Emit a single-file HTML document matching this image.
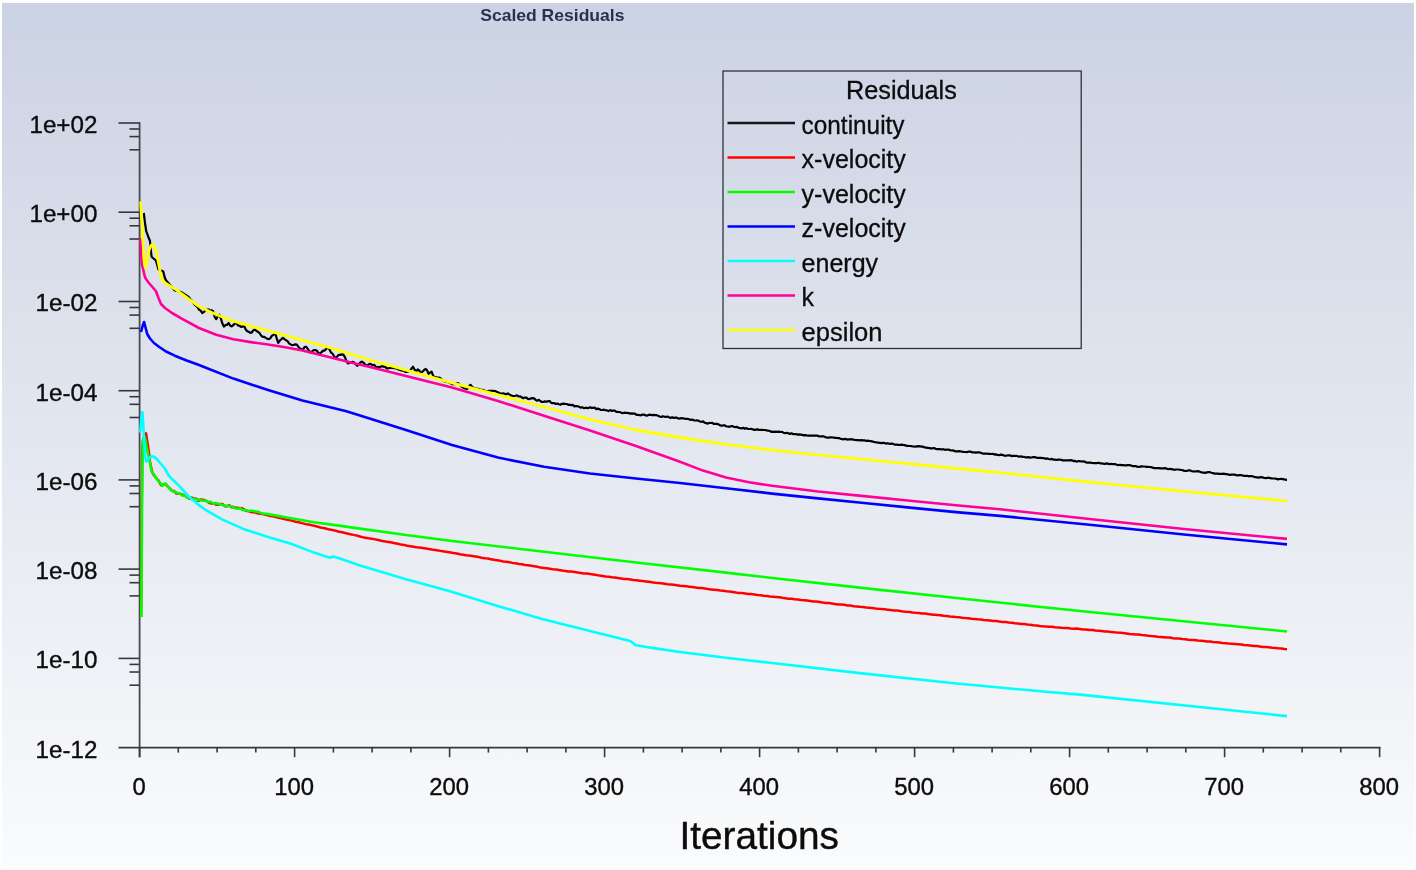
<!DOCTYPE html>
<html lang="en">
<head>
<meta charset="utf-8">
<title>Scaled Residuals</title>
<style>
html,body{margin:0;padding:0;background:#fff;overflow:hidden;}
body{width:1416px;height:870px;font-family:"Liberation Sans",Arial,sans-serif;}
svg{display:block;position:absolute;left:0;top:0;}
</style>
</head>
<body>
<svg width="1416" height="870" viewBox="0 0 1416 870">
<defs><linearGradient id="bg" x1="0" y1="0" x2="0" y2="1"><stop offset="0" stop-color="#cbd2e3"/><stop offset="1" stop-color="#fafbfc"/></linearGradient></defs>
<rect x="0" y="0" width="1416" height="870" fill="#ffffff"/>
<rect x="2" y="3" width="1412" height="862" fill="url(#bg)"/>
<g stroke="#4a4b51" stroke-width="1.8" fill="none"><line x1="139.6" y1="122.2" x2="139.6" y2="757.2"/></g>
<g stroke="#37383d" stroke-width="1.6" fill="none"><line x1="118.5" y1="747.6" x2="1380.6" y2="747.6"/><line x1="118.5" y1="123.0" x2="139.6" y2="123.0"/><line x1="129.5" y1="129.0" x2="139.6" y2="129.0"/><line x1="129.5" y1="136.6" x2="139.6" y2="136.6"/><line x1="129.5" y1="149.8" x2="139.6" y2="149.8"/><line x1="118.5" y1="212.2" x2="139.6" y2="212.2"/><line x1="129.5" y1="218.2" x2="139.6" y2="218.2"/><line x1="129.5" y1="225.8" x2="139.6" y2="225.8"/><line x1="129.5" y1="239.0" x2="139.6" y2="239.0"/><line x1="118.5" y1="301.5" x2="139.6" y2="301.5"/><line x1="129.5" y1="307.5" x2="139.6" y2="307.5"/><line x1="129.5" y1="315.1" x2="139.6" y2="315.1"/><line x1="129.5" y1="328.3" x2="139.6" y2="328.3"/><line x1="118.5" y1="390.7" x2="139.6" y2="390.7"/><line x1="129.5" y1="396.7" x2="139.6" y2="396.7"/><line x1="129.5" y1="404.3" x2="139.6" y2="404.3"/><line x1="129.5" y1="417.5" x2="139.6" y2="417.5"/><line x1="118.5" y1="479.9" x2="139.6" y2="479.9"/><line x1="129.5" y1="485.9" x2="139.6" y2="485.9"/><line x1="129.5" y1="493.5" x2="139.6" y2="493.5"/><line x1="129.5" y1="506.7" x2="139.6" y2="506.7"/><line x1="118.5" y1="569.1" x2="139.6" y2="569.1"/><line x1="129.5" y1="575.1" x2="139.6" y2="575.1"/><line x1="129.5" y1="582.7" x2="139.6" y2="582.7"/><line x1="129.5" y1="595.9" x2="139.6" y2="595.9"/><line x1="118.5" y1="658.4" x2="139.6" y2="658.4"/><line x1="129.5" y1="664.4" x2="139.6" y2="664.4"/><line x1="129.5" y1="672.0" x2="139.6" y2="672.0"/><line x1="129.5" y1="685.2" x2="139.6" y2="685.2"/><line x1="139.6" y1="747.6" x2="139.6" y2="757.2"/><line x1="178.3" y1="747.6" x2="178.3" y2="752.6"/><line x1="217.1" y1="747.6" x2="217.1" y2="752.6"/><line x1="255.8" y1="747.6" x2="255.8" y2="752.6"/><line x1="294.6" y1="747.6" x2="294.6" y2="757.2"/><line x1="333.4" y1="747.6" x2="333.4" y2="752.6"/><line x1="372.1" y1="747.6" x2="372.1" y2="752.6"/><line x1="410.9" y1="747.6" x2="410.9" y2="752.6"/><line x1="449.6" y1="747.6" x2="449.6" y2="757.2"/><line x1="488.4" y1="747.6" x2="488.4" y2="752.6"/><line x1="527.1" y1="747.6" x2="527.1" y2="752.6"/><line x1="565.9" y1="747.6" x2="565.9" y2="752.6"/><line x1="604.6" y1="747.6" x2="604.6" y2="757.2"/><line x1="643.4" y1="747.6" x2="643.4" y2="752.6"/><line x1="682.1" y1="747.6" x2="682.1" y2="752.6"/><line x1="720.9" y1="747.6" x2="720.9" y2="752.6"/><line x1="759.6" y1="747.6" x2="759.6" y2="757.2"/><line x1="798.4" y1="747.6" x2="798.4" y2="752.6"/><line x1="837.1" y1="747.6" x2="837.1" y2="752.6"/><line x1="875.9" y1="747.6" x2="875.9" y2="752.6"/><line x1="914.6" y1="747.6" x2="914.6" y2="757.2"/><line x1="953.4" y1="747.6" x2="953.4" y2="752.6"/><line x1="992.1" y1="747.6" x2="992.1" y2="752.6"/><line x1="1030.8" y1="747.6" x2="1030.8" y2="752.6"/><line x1="1069.6" y1="747.6" x2="1069.6" y2="757.2"/><line x1="1108.3" y1="747.6" x2="1108.3" y2="752.6"/><line x1="1147.1" y1="747.6" x2="1147.1" y2="752.6"/><line x1="1185.8" y1="747.6" x2="1185.8" y2="752.6"/><line x1="1224.6" y1="747.6" x2="1224.6" y2="757.2"/><line x1="1263.3" y1="747.6" x2="1263.3" y2="752.6"/><line x1="1302.1" y1="747.6" x2="1302.1" y2="752.6"/><line x1="1340.8" y1="747.6" x2="1340.8" y2="752.6"/><line x1="1379.6" y1="747.6" x2="1379.6" y2="757.2"/></g>
<path d="M143.8,213.0 L145.0,223.0 L146.2,231.0 L148.0,236.0 L150.0,241.0 L150.8,250.0 L151.6,256.7 L153.5,258.5 L155.9,260.5 L157.2,265.0 L158.4,269.3 L160.5,270.2 L163.3,271.5 L164.6,277.0 L165.8,280.0 L170.0,285.0 L174.8,290.5 L181.0,292.0 L188.6,297.0 L195.0,305.0 L196.0,305.8 L197.6,307.1 L199.1,309.7 L200.7,310.6 L202.2,313.0 L203.8,312.1 L205.3,310.3 L206.9,309.8 L208.4,309.4 L210.0,310.4 L211.5,310.3 L213.1,311.3 L214.6,316.8 L216.2,319.1 L217.7,316.5 L219.3,314.7 L220.8,318.3 L222.4,323.6 L223.9,326.6 L225.5,325.1 L227.0,324.8 L228.6,323.0 L230.1,325.6 L231.7,326.4 L233.2,325.2 L234.8,323.6 L236.3,323.0 L237.9,325.4 L239.4,325.8 L241.0,326.8 L242.5,326.7 L244.1,325.9 L245.6,329.2 L247.2,331.2 L248.7,331.8 L250.3,332.8 L251.8,332.5 L253.4,330.2 L254.9,329.6 L256.5,331.0 L258.0,331.9 L259.6,333.1 L261.1,335.5 L262.7,336.9 L264.2,336.8 L265.8,337.9 L267.3,338.7 L268.9,339.2 L270.4,338.1 L272.0,335.7 L273.5,334.9 L275.1,332.8 L276.6,338.0 L278.2,343.0 L279.7,340.8 L281.3,339.2 L282.8,337.8 L284.4,339.2 L285.9,340.2 L287.5,341.0 L289.0,343.4 L290.6,344.4 L292.1,345.1 L293.7,344.8 L295.2,344.4 L296.8,344.7 L298.3,346.7 L299.9,348.5 L301.4,349.1 L303.0,349.6 L304.5,347.1 L306.1,346.7 L307.6,348.6 L309.2,351.0 L310.7,352.7 L312.3,351.2 L313.8,350.0 L315.4,350.1 L316.9,350.8 L318.5,353.0 L320.0,353.8 L321.6,352.1 L323.1,350.6 L324.7,350.6 L326.2,348.8 L327.8,347.7 L329.3,349.0 L330.9,352.3 L332.4,353.5 L334.0,356.1 L335.5,357.9 L337.1,356.7 L338.6,354.9 L340.2,354.9 L341.7,354.3 L343.3,354.6 L344.8,356.9 L346.4,361.0 L347.9,363.3 L349.5,363.0 L351.0,362.2 L352.6,361.8 L354.1,362.5 L355.7,364.2 L357.2,365.8 L358.8,364.5 L360.3,362.4 L361.9,361.6 L363.4,362.6 L365.0,364.2 L366.5,365.7 L368.1,364.9 L369.6,363.8 L371.2,364.3 L372.7,365.3 L374.3,364.9 L375.8,366.9 L377.4,367.1 L378.9,367.2 L380.5,366.9 L382.0,366.1 L383.6,366.7 L385.1,366.9 L386.7,368.3 L388.2,368.4 L389.8,368.0 L391.3,368.0 L392.9,367.9 L394.4,368.2 L396.0,368.5 L397.5,369.0 L399.1,369.8 L400.6,370.2 L402.2,370.7 L403.7,370.5 L405.3,371.8 L406.8,371.9 L408.4,371.5 L409.9,370.9 L411.5,368.6 L413.0,366.7 L414.6,369.8 L416.1,371.7 L417.7,369.4 L419.2,370.4 L420.8,373.1 L422.3,371.8 L423.9,370.2 L425.4,369.0 L427.0,370.2 L428.5,373.9 L430.1,372.5 L431.6,371.7 L433.2,375.8 L434.7,377.3 L436.3,377.1 L437.8,377.9 L439.4,377.6 L440.9,378.7 L442.5,380.3 L444.0,381.2 L445.6,381.8 L447.1,381.8 L448.7,382.4 L450.2,382.7 L451.8,384.1 L453.3,384.0 L454.9,384.2 L456.4,383.5 L458.0,383.1 L459.5,384.8 L461.1,386.3 L462.6,387.3 L464.2,388.3 L465.7,388.7 L467.3,389.0 L468.8,386.8 L470.4,384.8 L471.9,386.5 L473.5,387.8 L475.0,388.3 L476.6,388.6 L478.1,388.8 L479.7,389.4 L481.2,390.0 L482.8,389.8 L484.3,390.5 L485.9,391.0 L487.4,391.3 L489.0,390.9 L490.5,390.8 L492.1,390.8 L493.6,390.9 L495.2,391.1 L496.7,391.8 L500.0,393.2 L501.6,393.7 L503.1,393.3 L504.7,393.7 L506.2,394.4 L507.8,393.4 L509.3,394.4 L510.9,395.4 L512.4,395.8 L514.0,396.0 L515.5,395.8 L517.1,395.3 L518.6,396.5 L520.2,396.3 L521.7,397.3 L523.3,398.2 L524.8,397.6 L526.4,397.6 L527.9,398.9 L529.5,399.1 L531.0,398.3 L532.6,398.1 L534.1,398.3 L535.7,400.1 L537.2,400.7 L538.8,399.8 L540.3,401.0 L541.9,402.0 L543.4,401.9 L545.0,401.4 L546.5,401.8 L548.1,401.2 L549.6,401.0 L551.2,402.9 L552.7,403.1 L554.3,403.1 L555.8,404.0 L557.4,403.5 L558.9,404.3 L560.5,404.7 L562.0,403.8 L563.6,403.7 L565.1,403.9 L566.7,404.0 L568.2,404.8 L569.8,404.7 L571.3,405.1 L572.9,404.8 L574.4,406.4 L576.0,406.0 L577.5,406.2 L579.1,406.7 L580.6,407.6 L582.2,407.2 L583.7,408.1 L585.3,407.8 L586.8,407.9 L588.4,408.1 L589.9,407.3 L591.5,407.9 L593.0,407.8 L594.6,407.5 L596.1,409.1 L597.7,408.6 L599.2,409.1 L600.8,409.9 L602.3,410.0 L603.9,409.7 L605.4,410.1 L607.0,410.4 L608.5,411.1 L610.1,410.1 L611.6,410.8 L613.2,410.6 L614.7,410.6 L616.3,411.8 L617.8,411.8 L619.4,412.0 L620.9,412.6 L622.5,413.2 L624.0,412.7 L625.6,412.9 L627.1,412.9 L628.7,413.1 L630.2,413.6 L631.8,413.4 L633.3,413.6 L634.9,413.7 L636.4,414.8 L638.0,414.8 L639.5,415.2 L641.1,415.3 L642.6,414.5 L644.2,414.7 L645.7,415.4 L647.3,415.6 L648.8,414.8 L650.4,414.7 L651.9,415.1 L653.5,414.9 L655.0,415.1 L656.6,415.1 L658.1,415.9 L659.7,416.5 L661.2,416.9 L662.8,416.2 L664.3,416.7 L665.9,417.0 L667.4,416.5 L669.0,417.3 L670.5,417.9 L672.1,417.2 L673.6,418.0 L675.2,417.6 L676.7,417.7 L678.3,418.5 L679.8,418.6 L681.4,418.0 L682.9,418.3 L684.5,418.7 L686.0,418.8 L687.6,418.8 L689.1,419.2 L690.7,420.0 L692.2,419.5 L693.8,420.3 L695.3,420.5 L696.9,420.3 L698.4,420.7 L700.0,421.5 L701.5,421.8 L703.1,421.4 L704.6,422.7 L706.2,423.1 L707.7,423.6 L709.3,422.9 L710.8,423.0 L712.4,422.9 L713.9,424.0 L715.5,423.9 L717.0,423.9 L718.6,424.4 L720.1,425.4 L721.7,425.8 L723.2,425.4 L724.8,425.3 L726.3,426.4 L727.9,426.5 L729.4,426.8 L731.0,426.2 L732.5,426.1 L734.1,427.0 L735.6,427.1 L737.2,426.8 L738.7,427.9 L740.3,428.1 L741.8,428.5 L743.4,427.8 L744.9,428.7 L746.5,428.1 L748.0,429.0 L749.6,429.0 L751.1,428.9 L752.7,429.3 L754.2,430.0 L755.8,429.6 L757.3,429.4 L758.9,429.9 L760.4,429.9 L762.0,429.8 L763.5,430.0 L765.1,430.0 L766.6,430.4 L768.2,430.7 L769.7,431.0 L771.3,431.8 L772.8,431.6 L774.4,431.9 L775.9,431.6 L777.5,431.9 L779.0,431.6 L780.6,432.0 L782.1,431.9 L783.7,432.9 L785.2,433.1 L786.8,432.8 L788.3,433.2 L789.9,434.0 L791.4,433.3 L793.0,434.1 L794.5,434.0 L796.1,434.1 L797.6,434.7 L799.2,434.4 L800.7,434.6 L802.3,434.9 L803.8,435.4 L805.4,435.1 L806.9,435.5 L808.5,435.6 L810.0,435.7 L811.6,435.6 L813.1,435.7 L814.7,435.5 L816.2,435.6 L817.8,435.7 L819.3,436.5 L820.9,436.4 L822.4,436.4 L824.0,436.4 L825.5,437.2 L827.1,437.6 L828.6,437.6 L830.2,437.4 L831.7,437.4 L833.3,437.5 L834.8,437.8 L836.4,437.8 L837.9,438.1 L839.5,438.2 L841.0,438.9 L842.6,439.3 L844.1,439.1 L845.7,438.9 L847.2,439.6 L848.8,439.3 L850.3,439.4 L851.9,439.2 L853.4,439.6 L855.0,439.9 L856.5,440.1 L858.1,440.0 L859.6,440.4 L861.2,440.1 L862.7,440.4 L864.3,440.4 L865.8,440.8 L867.4,440.7 L868.9,440.8 L870.5,441.2 L872.0,441.4 L873.6,441.8 L875.1,442.1 L876.7,442.5 L878.2,442.6 L879.8,442.8 L881.3,443.1 L882.9,442.9 L884.4,442.9 L886.0,443.6 L887.5,443.2 L889.1,443.7 L890.6,443.9 L892.2,443.5 L893.7,444.2 L895.3,444.6 L896.8,444.6 L898.4,444.8 L899.9,445.0 L901.5,444.6 L903.0,444.9 L904.6,445.1 L906.1,445.6 L907.7,445.8 L909.2,446.0 L910.8,446.0 L912.3,446.4 L913.9,446.5 L915.4,446.6 L917.0,446.4 L918.5,446.2 L920.1,446.4 L921.6,446.7 L923.2,446.7 L924.7,447.5 L926.3,447.7 L927.8,447.9 L929.4,448.1 L930.9,448.3 L932.5,448.4 L934.0,448.0 L935.6,448.8 L937.1,449.1 L938.7,449.1 L940.2,449.2 L941.8,449.5 L943.3,449.2 L944.9,449.8 L946.4,449.7 L948.0,449.6 L949.5,449.9 L951.1,450.5 L952.6,450.4 L954.2,450.9 L955.7,451.4 L957.3,451.3 L958.8,451.2 L960.4,451.3 L961.9,451.7 L963.5,451.9 L965.0,452.0 L966.6,452.1 L968.1,451.7 L969.7,451.7 L971.2,451.9 L972.8,452.5 L974.3,452.4 L975.9,452.7 L977.4,452.4 L979.0,452.4 L980.5,452.7 L982.1,453.3 L983.6,453.6 L985.2,453.7 L986.7,453.5 L988.3,453.8 L989.8,453.9 L991.4,454.0 L992.9,453.8 L994.5,454.6 L996.0,454.3 L997.6,455.0 L999.1,455.2 L1000.7,454.6 L1002.2,454.9 L1003.8,455.4 L1005.3,455.8 L1006.9,455.5 L1008.4,455.3 L1010.0,455.3 L1011.5,456.1 L1013.1,455.7 L1014.6,456.0 L1016.2,455.8 L1017.7,456.2 L1019.3,456.8 L1020.8,456.3 L1022.4,456.9 L1023.9,456.9 L1025.5,457.3 L1027.0,457.4 L1028.6,457.1 L1030.1,457.6 L1031.7,457.5 L1033.2,457.2 L1034.8,457.1 L1036.3,457.6 L1037.9,457.8 L1039.4,457.9 L1041.0,457.8 L1042.5,458.1 L1044.1,458.2 L1045.6,458.8 L1047.2,458.4 L1048.7,459.0 L1050.3,459.3 L1051.8,458.9 L1053.4,459.6 L1054.9,459.7 L1056.5,460.0 L1058.0,459.6 L1059.6,459.7 L1061.1,459.8 L1062.7,460.4 L1064.2,460.4 L1065.8,460.3 L1067.3,460.4 L1068.9,460.3 L1070.4,460.2 L1072.0,460.3 L1073.5,461.1 L1075.1,460.9 L1076.6,461.6 L1078.2,461.2 L1079.7,461.2 L1081.3,461.5 L1082.8,461.4 L1084.4,461.6 L1085.9,462.3 L1087.5,462.6 L1089.0,462.7 L1090.6,462.7 L1092.1,463.0 L1093.7,463.2 L1095.2,463.0 L1096.8,463.2 L1098.3,462.7 L1099.9,463.3 L1101.4,463.3 L1103.0,463.7 L1104.5,463.8 L1106.1,463.6 L1107.6,463.4 L1109.2,464.2 L1110.7,463.8 L1112.3,464.1 L1113.8,464.2 L1115.4,464.2 L1116.9,464.7 L1118.5,465.2 L1120.0,464.8 L1121.6,465.1 L1123.1,465.0 L1124.7,465.3 L1126.2,465.3 L1127.8,465.2 L1129.3,465.2 L1130.9,465.4 L1132.4,466.1 L1134.0,466.1 L1135.5,466.0 L1137.1,466.6 L1138.6,467.0 L1140.2,466.7 L1141.7,466.4 L1143.3,466.5 L1144.8,466.5 L1146.4,466.8 L1147.9,466.8 L1149.5,467.0 L1151.0,467.1 L1152.6,467.6 L1154.1,468.1 L1155.7,468.2 L1157.2,468.1 L1158.8,468.1 L1160.3,468.3 L1161.9,468.3 L1163.4,468.4 L1165.0,468.2 L1166.5,468.5 L1168.1,469.2 L1169.6,468.8 L1171.2,469.1 L1172.7,469.4 L1174.3,469.8 L1175.8,469.5 L1177.4,469.5 L1178.9,469.5 L1180.5,469.8 L1182.0,470.0 L1183.6,470.6 L1185.1,470.8 L1186.7,471.0 L1188.2,470.4 L1189.8,470.3 L1191.3,471.0 L1192.9,471.5 L1194.4,471.4 L1196.0,471.5 L1197.5,471.1 L1199.1,471.4 L1200.6,472.1 L1202.2,472.4 L1203.7,472.6 L1205.3,472.9 L1206.8,472.4 L1208.4,472.2 L1209.9,472.2 L1211.5,472.7 L1213.0,473.1 L1214.6,473.6 L1216.1,473.6 L1217.7,473.7 L1219.2,473.9 L1220.8,473.8 L1222.3,473.9 L1223.9,473.6 L1225.4,474.2 L1227.0,474.1 L1228.5,474.7 L1230.1,474.8 L1231.6,474.6 L1233.2,474.5 L1234.7,474.6 L1236.3,475.1 L1237.8,475.4 L1239.4,475.1 L1240.9,475.1 L1242.5,475.5 L1244.0,475.9 L1245.6,475.9 L1247.1,475.8 L1248.7,476.3 L1250.2,476.0 L1251.8,476.2 L1253.3,476.5 L1254.9,477.2 L1256.4,477.2 L1258.0,477.6 L1259.5,477.4 L1261.1,477.2 L1262.6,477.3 L1264.2,478.0 L1265.7,478.1 L1267.3,477.9 L1268.8,477.7 L1270.4,478.1 L1271.9,478.5 L1273.5,478.5 L1275.0,478.5 L1276.6,478.9 L1278.1,479.4 L1279.7,479.0 L1281.2,478.8 L1282.8,479.1 L1284.3,479.4 L1285.9,479.8 L1287.0,479.8" fill="none" stroke="#000000" stroke-width="2.2" stroke-linejoin="round" stroke-linecap="butt"/>
<path d="M141.1,617.0 L141.5,560.0 L141.8,500.0 L142.2,452.0 L143.0,440.0 L144.4,435.5 L146.0,433.2 L147.2,441.0 L148.4,449.0 L149.6,457.0 L150.0,461.9 L152.2,472.3 L154.4,475.8 L156.6,478.5 L158.8,480.9 L161.0,485.2 L163.2,484.4 L165.4,484.0 L167.6,486.3 L169.8,488.3 L172.0,490.8 L174.2,491.0 L176.4,493.6 L178.6,493.5 L180.8,493.8 L183.0,494.8 L185.2,496.0 L187.4,497.4 L189.6,498.8 L191.8,497.6 L194.0,498.6 L196.2,498.7 L198.4,500.8 L200.6,499.5 L202.8,499.8 L205.0,500.3 L207.2,501.4 L209.4,503.0 L211.6,503.4 L213.8,503.5 L216.0,504.5 L218.2,504.8 L220.4,504.0 L222.6,504.1 L224.8,506.2 L227.0,506.3 L229.2,505.3 L231.4,507.2 L233.6,507.1 L235.8,507.6 L238.0,508.0 L240.2,508.1 L242.4,508.3 L246.0,510.7 L249.1,511.4 L252.2,512.2 L255.3,512.6 L258.4,513.5 L261.5,513.9 L264.6,514.6 L267.7,515.3 L270.8,516.0 L273.9,516.6 L277.0,517.2 L280.1,518.1 L283.2,518.8 L286.3,519.6 L289.4,520.1 L292.5,520.9 L295.6,521.8 L298.7,522.2 L301.8,523.1 L304.9,523.9 L308.0,524.6 L311.1,525.1 L314.2,525.8 L317.3,526.5 L320.4,527.5 L323.5,528.0 L326.6,528.8 L329.7,529.6 L332.8,530.1 L335.9,530.8 L339.0,531.7 L342.1,532.3 L345.2,533.0 L348.3,533.8 L351.4,534.4 L354.5,535.1 L357.6,535.8 L360.7,536.7 L363.8,537.4 L366.9,537.9 L370.0,538.6 L373.1,538.9 L376.2,539.6 L379.3,540.2 L382.4,541.0 L385.5,541.6 L388.6,542.0 L391.7,542.6 L394.8,543.2 L397.9,543.8 L401.0,544.6 L404.1,544.9 L407.2,545.7 L410.3,546.2 L413.4,546.7 L416.5,547.2 L419.6,547.6 L422.7,548.0 L425.8,548.5 L428.9,549.0 L432.0,549.6 L435.1,549.9 L438.2,550.4 L441.3,551.1 L444.4,551.4 L447.5,551.9 L450.6,552.4 L453.7,553.0 L456.8,553.5 L459.9,554.2 L463.0,554.7 L466.1,555.2 L469.2,555.5 L472.3,556.0 L475.4,556.5 L478.5,557.1 L481.6,557.7 L484.7,558.2 L487.8,558.6 L490.9,559.2 L494.0,559.8 L497.1,560.3 L500.2,560.8 L503.3,561.4 L506.4,561.8 L509.5,562.2 L512.6,562.9 L515.7,563.3 L518.8,563.9 L521.9,564.3 L525.0,564.9 L528.1,565.3 L531.2,565.8 L534.3,566.3 L537.4,566.8 L540.5,567.6 L543.6,567.9 L546.7,568.3 L549.8,568.7 L552.9,569.3 L556.0,569.6 L559.1,569.9 L562.2,570.5 L565.3,570.9 L568.4,571.4 L571.5,571.6 L574.6,572.1 L577.7,572.6 L580.8,573.0 L583.9,573.5 L587.0,573.6 L590.1,574.1 L593.2,574.5 L596.3,574.9 L599.4,575.6 L602.5,575.9 L605.6,576.4 L608.7,576.7 L611.8,577.2 L614.9,577.5 L618.0,577.9 L621.1,578.4 L624.2,578.9 L627.3,579.1 L630.4,579.6 L633.5,580.1 L636.6,580.3 L639.7,580.7 L642.8,581.1 L645.9,581.4 L649.0,581.8 L652.1,582.3 L655.2,582.7 L658.3,582.9 L661.4,583.3 L664.5,583.7 L667.6,584.2 L670.7,584.4 L673.8,584.8 L676.9,585.2 L680.0,585.7 L683.1,586.0 L686.2,586.3 L689.3,586.7 L692.4,587.1 L695.5,587.5 L698.6,587.9 L701.7,588.1 L704.8,588.5 L707.9,589.1 L711.0,589.4 L714.1,589.7 L717.2,590.1 L720.3,590.6 L723.4,590.8 L726.5,591.3 L729.6,591.6 L732.7,592.0 L735.8,592.5 L738.9,592.9 L742.0,593.1 L745.1,593.4 L748.2,593.9 L751.3,594.1 L754.4,594.4 L757.5,595.0 L760.6,595.3 L763.7,595.8 L766.8,596.0 L769.9,596.5 L773.0,596.7 L776.1,597.0 L779.2,597.3 L782.3,597.8 L785.4,598.2 L788.5,598.7 L791.6,598.8 L794.7,599.3 L797.8,599.6 L800.9,600.0 L804.0,600.2 L807.1,600.6 L810.2,601.0 L813.3,601.5 L816.4,601.6 L819.5,602.1 L822.6,602.6 L825.7,603.0 L828.8,603.1 L831.9,603.4 L835.0,604.0 L838.1,604.4 L841.2,604.6 L844.3,604.8 L847.4,605.4 L850.5,605.6 L853.6,606.2 L856.7,606.4 L859.8,606.8 L862.9,607.0 L866.0,607.5 L869.1,607.7 L872.2,608.1 L875.3,608.5 L878.4,608.8 L881.5,609.0 L884.6,609.3 L887.7,609.7 L890.8,610.1 L893.9,610.4 L897.0,610.6 L900.1,611.0 L903.2,611.5 L906.3,611.8 L909.4,611.9 L912.5,612.4 L915.6,612.8 L918.7,612.9 L921.8,613.5 L924.9,613.6 L928.0,614.1 L931.1,614.4 L934.2,614.7 L937.3,615.0 L940.4,615.3 L943.5,615.7 L946.6,616.0 L949.7,616.4 L952.8,616.7 L955.9,617.0 L959.0,617.2 L962.1,617.7 L965.2,618.0 L968.3,618.2 L971.4,618.7 L974.5,619.0 L977.6,619.3 L980.7,619.5 L983.8,619.9 L986.9,620.2 L990.0,620.5 L993.1,620.9 L996.2,621.1 L999.3,621.6 L1002.4,621.9 L1005.5,622.1 L1008.6,622.6 L1011.7,622.8 L1014.8,623.3 L1017.9,623.6 L1021.0,623.9 L1024.1,624.1 L1027.2,624.5 L1030.3,624.8 L1033.4,625.3 L1036.5,625.4 L1039.6,625.9 L1042.7,626.3 L1045.8,626.5 L1048.9,626.8 L1052.0,626.8 L1055.1,627.3 L1058.2,627.4 L1061.3,627.8 L1064.4,628.0 L1067.5,628.0 L1070.6,628.4 L1073.7,628.7 L1076.8,628.6 L1079.9,628.9 L1083.0,629.4 L1086.1,629.5 L1089.2,630.0 L1092.3,630.1 L1095.4,630.6 L1098.5,630.7 L1101.6,631.1 L1104.7,631.5 L1107.8,631.6 L1110.9,631.9 L1114.0,632.3 L1117.1,632.6 L1120.2,632.8 L1123.3,633.1 L1126.4,633.4 L1129.5,634.0 L1132.6,634.2 L1135.7,634.6 L1138.8,634.6 L1141.9,635.1 L1145.0,635.2 L1148.1,635.7 L1151.2,636.0 L1154.3,636.2 L1157.4,636.7 L1160.5,636.9 L1163.6,637.2 L1166.7,637.6 L1169.8,637.6 L1172.9,638.2 L1176.0,638.4 L1179.1,638.6 L1182.2,639.1 L1185.3,639.2 L1188.4,639.7 L1191.5,639.9 L1194.6,640.1 L1197.7,640.6 L1200.8,640.8 L1203.9,641.0 L1207.0,641.5 L1210.1,641.6 L1213.2,642.1 L1216.3,642.2 L1219.4,642.6 L1222.5,643.1 L1225.6,643.2 L1228.7,643.6 L1231.8,643.8 L1234.9,644.0 L1238.0,644.3 L1241.1,644.6 L1244.2,645.1 L1247.3,645.3 L1250.4,645.6 L1253.5,646.0 L1256.6,646.1 L1259.7,646.5 L1262.8,646.9 L1265.9,647.0 L1269.0,647.3 L1272.1,647.7 L1275.2,647.9 L1278.3,648.3 L1281.4,648.6 L1284.5,649.0 L1287.0,649.2" fill="none" stroke="#ff0000" stroke-width="2.5" stroke-linejoin="round" stroke-linecap="butt"/>
<path d="M141.3,617.0 L141.7,560.0 L142.1,500.0 L142.6,456.0 L142.7,444.0 L143.4,438.5 L144.6,436.5 L145.7,441.0 L146.9,448.0 L148.3,455.0 L149.9,462.0 L151.2,470.0 L153.0,473.3 L154.9,475.7 L156.8,479.0 L158.7,481.4 L160.6,483.3 L162.5,486.0 L164.4,483.6 L166.3,484.2 L168.2,487.0 L170.1,489.4 L172.0,490.8 L173.9,491.8 L175.8,492.3 L177.7,492.9 L179.6,493.3 L181.5,495.0 L183.4,495.7 L185.3,496.1 L187.2,497.2 L189.1,497.7 L191.0,498.9 L192.9,499.0 L194.8,498.7 L196.7,500.1 L198.6,499.3 L200.5,500.4 L202.4,500.6 L204.3,500.8 L206.2,500.9 L208.1,502.3 L210.0,501.6 L211.9,502.7 L213.8,503.7 L215.7,502.9 L217.6,503.4 L219.5,504.3 L221.4,504.6 L223.3,505.2 L225.2,505.9 L227.1,505.4 L229.0,506.0 L230.9,506.5 L232.8,506.6 L234.7,508.2 L236.6,508.5 L238.5,508.8 L240.4,508.2 L242.3,509.9 L244.2,510.2 L246.1,510.1 L248.0,510.9 L249.9,510.8 L251.8,510.8 L253.7,511.0 L255.6,511.5 L257.5,511.6 L259.4,512.3 L261.3,513.3 L268.0,514.1 L291.0,518.3 L314.0,522.2 L337.0,525.4 L360.0,528.6 L406.0,535.0 L450.0,540.7 L542.0,551.5 L634.0,562.3 L726.0,572.6 L770.0,577.7 L862.0,587.9 L954.0,597.8 L1046.0,607.5 L1090.0,612.0 L1287.0,631.5" fill="none" stroke="#00ff00" stroke-width="2.6" stroke-linejoin="round" stroke-linecap="butt"/>
<path d="M141.0,332.0 L142.6,326.0 L144.1,322.0 L145.4,327.0 L147.2,334.0 L150.0,338.5 L154.0,343.0 L159.3,347.0 L166.0,351.5 L174.8,355.7 L186.0,360.3 L199.0,365.0 L233.4,378.6 L268.0,390.0 L302.4,400.5 L345.5,411.0 L360.0,415.5 L406.0,430.0 L452.0,445.0 L498.0,457.6 L544.0,466.8 L590.0,473.5 L636.0,478.5 L680.0,483.0 L726.0,488.2 L772.0,493.6 L818.0,498.4 L864.0,503.0 L910.0,507.6 L956.0,512.1 L1000.0,515.9 L1092.0,525.0 L1184.0,534.5 L1287.0,544.4" fill="none" stroke="#0000ff" stroke-width="2.6" stroke-linejoin="round" stroke-linecap="butt"/>
<path d="M140.2,432.5 L141.2,420.0 L142.4,412.0 L143.3,425.0 L144.4,446.0 L145.4,458.0 L146.3,461.5 L147.8,460.0 L149.6,457.5 L152.4,456.3 L155.0,457.5 L157.6,460.0 L161.0,464.0 L164.5,468.0 L166.8,472.0 L169.0,476.0 L172.5,479.5 L176.0,482.8 L180.6,487.5 L189.8,497.6 L197.0,503.6 L205.9,510.2 L222.0,519.4 L245.0,529.6 L268.0,536.9 L291.0,543.8 L314.0,552.6 L326.0,556.6 L330.0,557.8 L333.0,556.5 L337.0,557.5 L360.0,565.4 L406.0,579.2 L450.0,591.2 L496.0,605.4 L542.0,619.0 L588.0,630.4 L620.0,638.6 L630.2,641.0 L632.6,642.6 L635.2,645.0 L645.0,646.8 L657.0,648.6 L680.0,652.0 L726.0,657.8 L770.0,662.8 L862.0,673.4 L954.0,683.2 L1046.0,691.8 L1080.0,694.6 L1287.0,716.1" fill="none" stroke="#00ffff" stroke-width="2.6" stroke-linejoin="round" stroke-linecap="butt"/>
<path d="M140.2,238.3 L141.2,254.0 L142.0,264.7 L143.0,268.5 L144.4,275.0 L145.6,278.5 L148.5,282.5 L152.0,286.5 L155.9,291.0 L158.5,298.0 L161.0,304.0 L165.0,308.0 L172.0,313.0 L181.7,318.6 L199.0,328.0 L216.2,334.8 L233.4,339.3 L250.7,342.1 L267.9,344.5 L285.2,347.2 L302.4,350.5 L319.7,354.7 L336.9,359.0 L354.0,363.2 L370.0,366.9 L406.0,376.0 L452.0,387.5 L498.0,401.0 L544.0,415.8 L590.0,430.4 L636.0,446.0 L680.0,461.8 L703.0,470.6 L726.0,477.5 L749.0,482.3 L772.0,485.8 L818.0,491.5 L864.0,496.1 L910.0,500.7 L956.0,505.3 L1000.0,509.3 L1092.0,519.3 L1184.0,529.0 L1287.0,538.9" fill="none" stroke="#ff0099" stroke-width="2.6" stroke-linejoin="round" stroke-linecap="butt"/>
<path d="M140.6,201.5 L142.5,232.0 L144.2,262.0 L145.2,267.6 L147.0,262.0 L149.2,250.0 L151.0,245.4 L152.6,244.6 L154.5,246.5 L156.8,254.0 L159.4,268.0 L161.2,277.0 L162.6,280.8 L166.0,283.5 L170.0,286.0 L176.0,289.6 L186.0,297.0 L199.0,306.6 L215.0,314.0 L233.4,321.2 L267.9,330.7 L302.4,340.2 L336.9,349.7 L360.0,357.0 L406.0,370.2 L452.0,382.9 L498.0,394.8 L543.9,407.0 L589.9,419.4 L635.9,430.0 L680.0,437.5 L726.0,444.4 L772.0,450.1 L818.0,454.9 L864.0,459.4 L910.0,463.9 L956.0,468.5 L1000.0,472.7 L1092.0,482.3 L1184.0,491.3 L1287.0,501.1" fill="none" stroke="#ffff00" stroke-width="2.8" stroke-linejoin="round" stroke-linecap="butt"/>
<text transform="translate(480.20,21.30) scale(1.07,1)" text-anchor="start" font-size="16.4" font-family="'Liberation Sans', Arial, sans-serif" fill="#2b3050" font-weight="bold">Scaled Residuals</text><text transform="translate(97.40,133.00) scale(1.035,1)" text-anchor="end" font-size="23.4" font-family="'Liberation Sans', Arial, sans-serif" fill="#0c0c0c" stroke="#0c0c0c" stroke-width="0.35">1e+02</text><text transform="translate(97.40,222.23) scale(1.035,1)" text-anchor="end" font-size="23.4" font-family="'Liberation Sans', Arial, sans-serif" fill="#0c0c0c" stroke="#0c0c0c" stroke-width="0.35">1e+00</text><text transform="translate(97.40,311.46) scale(1.035,1)" text-anchor="end" font-size="23.4" font-family="'Liberation Sans', Arial, sans-serif" fill="#0c0c0c" stroke="#0c0c0c" stroke-width="0.35">1e-02</text><text transform="translate(97.40,400.69) scale(1.035,1)" text-anchor="end" font-size="23.4" font-family="'Liberation Sans', Arial, sans-serif" fill="#0c0c0c" stroke="#0c0c0c" stroke-width="0.35">1e-04</text><text transform="translate(97.40,489.91) scale(1.035,1)" text-anchor="end" font-size="23.4" font-family="'Liberation Sans', Arial, sans-serif" fill="#0c0c0c" stroke="#0c0c0c" stroke-width="0.35">1e-06</text><text transform="translate(97.40,579.14) scale(1.035,1)" text-anchor="end" font-size="23.4" font-family="'Liberation Sans', Arial, sans-serif" fill="#0c0c0c" stroke="#0c0c0c" stroke-width="0.35">1e-08</text><text transform="translate(97.40,668.37) scale(1.035,1)" text-anchor="end" font-size="23.4" font-family="'Liberation Sans', Arial, sans-serif" fill="#0c0c0c" stroke="#0c0c0c" stroke-width="0.35">1e-10</text><text transform="translate(97.40,757.60) scale(1.035,1)" text-anchor="end" font-size="23.4" font-family="'Liberation Sans', Arial, sans-serif" fill="#0c0c0c" stroke="#0c0c0c" stroke-width="0.35">1e-12</text><text transform="translate(139.10,794.80) scale(1.02,1)" text-anchor="middle" font-size="23.4" font-family="'Liberation Sans', Arial, sans-serif" fill="#0c0c0c" stroke="#0c0c0c" stroke-width="0.35">0</text><text transform="translate(294.10,794.80) scale(1.02,1)" text-anchor="middle" font-size="23.4" font-family="'Liberation Sans', Arial, sans-serif" fill="#0c0c0c" stroke="#0c0c0c" stroke-width="0.35">100</text><text transform="translate(449.10,794.80) scale(1.02,1)" text-anchor="middle" font-size="23.4" font-family="'Liberation Sans', Arial, sans-serif" fill="#0c0c0c" stroke="#0c0c0c" stroke-width="0.35">200</text><text transform="translate(604.10,794.80) scale(1.02,1)" text-anchor="middle" font-size="23.4" font-family="'Liberation Sans', Arial, sans-serif" fill="#0c0c0c" stroke="#0c0c0c" stroke-width="0.35">300</text><text transform="translate(759.10,794.80) scale(1.02,1)" text-anchor="middle" font-size="23.4" font-family="'Liberation Sans', Arial, sans-serif" fill="#0c0c0c" stroke="#0c0c0c" stroke-width="0.35">400</text><text transform="translate(914.10,794.80) scale(1.02,1)" text-anchor="middle" font-size="23.4" font-family="'Liberation Sans', Arial, sans-serif" fill="#0c0c0c" stroke="#0c0c0c" stroke-width="0.35">500</text><text transform="translate(1069.10,794.80) scale(1.02,1)" text-anchor="middle" font-size="23.4" font-family="'Liberation Sans', Arial, sans-serif" fill="#0c0c0c" stroke="#0c0c0c" stroke-width="0.35">600</text><text transform="translate(1224.10,794.80) scale(1.02,1)" text-anchor="middle" font-size="23.4" font-family="'Liberation Sans', Arial, sans-serif" fill="#0c0c0c" stroke="#0c0c0c" stroke-width="0.35">700</text><text transform="translate(1379.10,794.80) scale(1.02,1)" text-anchor="middle" font-size="23.4" font-family="'Liberation Sans', Arial, sans-serif" fill="#0c0c0c" stroke="#0c0c0c" stroke-width="0.35">800</text><text transform="translate(759.20,848.50) scale(1.01,1)" text-anchor="middle" font-size="38.4" font-family="'Liberation Sans', Arial, sans-serif" fill="#0c0c0c" stroke="#0c0c0c" stroke-width="0.4">Iterations</text>
<rect x="723" y="71" width="358.2" height="277.5" fill="none" stroke="#2a2c30" stroke-width="1.25"/><text transform="translate(901.40,99.20) scale(1.01,1)" text-anchor="middle" font-size="25" font-family="'Liberation Sans', Arial, sans-serif" fill="#0c0c0c" stroke="#0c0c0c" stroke-width="0.3">Residuals</text><line x1="727.5" y1="123.1" x2="795" y2="123.1" stroke="#161616" stroke-width="2.5"/><text transform="translate(801.60,133.60) scale(0.975,1)" text-anchor="start" font-size="25" font-family="'Liberation Sans', Arial, sans-serif" fill="#0c0c0c" stroke="#0c0c0c" stroke-width="0.3">continuity</text><line x1="727.5" y1="157.6" x2="795" y2="157.6" stroke="#ff0000" stroke-width="2.5"/><text transform="translate(801.60,168.10) scale(1.0,1)" text-anchor="start" font-size="25" font-family="'Liberation Sans', Arial, sans-serif" fill="#0c0c0c" stroke="#0c0c0c" stroke-width="0.3">x-velocity</text><line x1="727.5" y1="192.1" x2="795" y2="192.1" stroke="#00ff00" stroke-width="2.5"/><text transform="translate(801.60,202.60) scale(1.0,1)" text-anchor="start" font-size="25" font-family="'Liberation Sans', Arial, sans-serif" fill="#0c0c0c" stroke="#0c0c0c" stroke-width="0.3">y-velocity</text><line x1="727.5" y1="226.6" x2="795" y2="226.6" stroke="#0000ff" stroke-width="2.5"/><text transform="translate(801.60,237.10) scale(1.0,1)" text-anchor="start" font-size="25" font-family="'Liberation Sans', Arial, sans-serif" fill="#0c0c0c" stroke="#0c0c0c" stroke-width="0.3">z-velocity</text><line x1="727.5" y1="261.1" x2="795" y2="261.1" stroke="#00ffff" stroke-width="2.5"/><text transform="translate(801.60,271.60) scale(1.0,1)" text-anchor="start" font-size="25" font-family="'Liberation Sans', Arial, sans-serif" fill="#0c0c0c" stroke="#0c0c0c" stroke-width="0.3">energy</text><line x1="727.5" y1="295.6" x2="795" y2="295.6" stroke="#ff0099" stroke-width="2.5"/><text transform="translate(801.60,306.10) scale(1.0,1)" text-anchor="start" font-size="25" font-family="'Liberation Sans', Arial, sans-serif" fill="#0c0c0c" stroke="#0c0c0c" stroke-width="0.3">k</text><line x1="727.5" y1="330.1" x2="795" y2="330.1" stroke="#ffff00" stroke-width="2.5"/><text transform="translate(801.60,340.60) scale(1.02,1)" text-anchor="start" font-size="25" font-family="'Liberation Sans', Arial, sans-serif" fill="#0c0c0c" stroke="#0c0c0c" stroke-width="0.3">epsilon</text>
</svg>
</body>
</html>
